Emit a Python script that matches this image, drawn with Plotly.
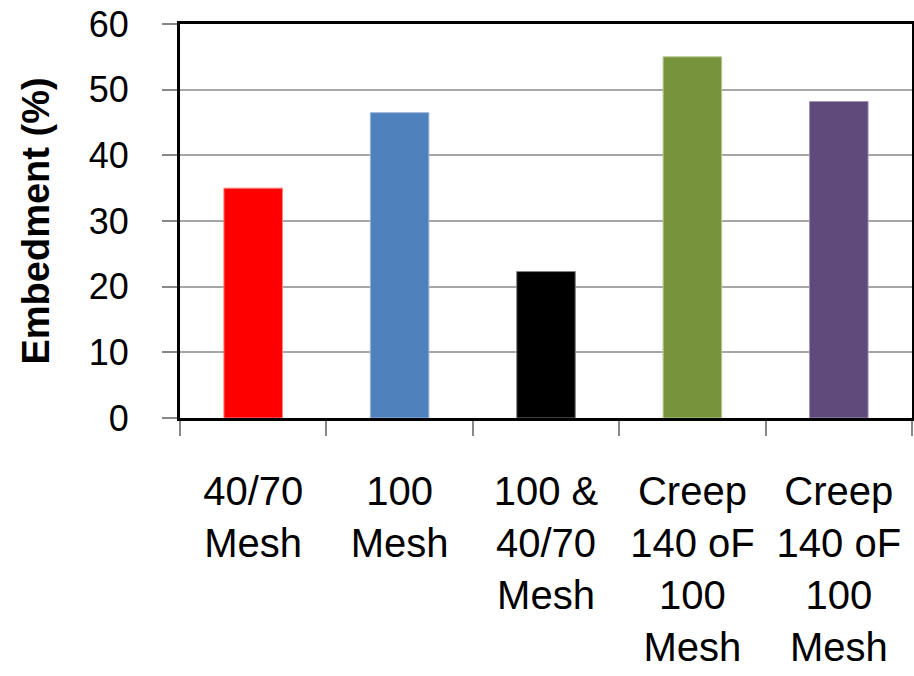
import plotly.graph_objects as go

categories = ["c1", "c2", "c3", "c4", "c5"]
tick_labels = ["40/70<br>Mesh", "100<br>Mesh", "100 &<br>40/70<br>Mesh",
               "Creep<br>140 oF<br>100<br>Mesh", "Creep<br>140 oF<br>100<br>Mesh"]
values = [35.0, 46.5, 22.3, 55.0, 48.2]
colors = ["#FF0000", "#4F81BD", "#000000", "#77933C", "#604A7B"]
outline = ["#FF8080", "#9DB6DA", "#808080", "#B5C98E", "#A394B8"]

fig = go.Figure(go.Bar(
    x=categories, y=values,
    marker=dict(color=colors, line=dict(color=outline, width=1)),
))

fig.update_layout(
    width=914, height=676,
    margin=dict(l=180, r=2, t=24, b=258),
    paper_bgcolor="white", plot_bgcolor="white",
    bargap=0.6, showlegend=False,
    font=dict(family="Liberation Sans", color="black"),
)
fig.update_xaxes(
    type="category", tickvals=categories, ticktext=tick_labels,
    tickson="boundaries", ticks="outside", ticklen=15, tickwidth=2, tickcolor="#888888",
    showline=True, linecolor="black", linewidth=3, mirror=True,
    tickfont=dict(size=40, family="Liberation Sans", color="black"),
    ticklabelstandoff=36, showgrid=False, automargin=False,
)
fig.update_yaxes(
    range=[0, 60], dtick=10, ticks="outside", ticklen=15, tickwidth=2, tickcolor="#888888",
    showline=True, linecolor="black", linewidth=3, mirror=True,
    showgrid=True, gridcolor="#A6A6A6", gridwidth=2,
    tickfont=dict(size=36, family="Liberation Sans", color="black"),
    ticklabelstandoff=26, automargin=False,
    title=dict(text="<b>Embedment (%)</b>", font=dict(size=38, family="Liberation Sans", color="black"), standoff=28),
    zeroline=False,
)

fig.write_html("out.html", config={"displayModeBar": False},
               post_script="document.body.style.margin='0';")
